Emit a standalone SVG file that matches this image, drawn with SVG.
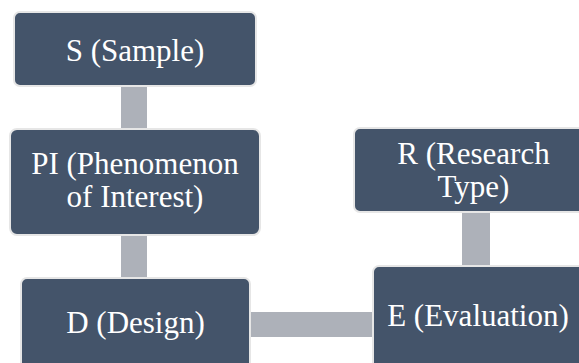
<svg xmlns="http://www.w3.org/2000/svg" width="579" height="363" viewBox="0 0 579 363">
<style>
.box{fill:#44546a;stroke:#e6e6e6;stroke-width:2}
.con{fill:#adb1b9}
.t{font-family:'Liberation Serif','DejaVu Serif',serif;font-size:31px;fill:#ffffff;text-anchor:middle}
</style>
<rect width="579" height="363" fill="#ffffff"/>
<g id="connectors">
<rect class="con" x="121" y="87" width="26" height="42"/>
<rect class="con" x="121" y="235" width="26" height="43"/>
<rect class="con" x="250" y="312" width="123" height="25"/>
<rect class="con" x="462" y="212" width="28" height="54"/>
</g>
<g id="S">
<rect class="box" x="14" y="12" width="242" height="74" rx="6"/>
<text class="t" x="135" y="61" font-family="Liberation Serif, serif">S (Sample)</text>
</g>
<g id="PI">
<rect class="box" x="10" y="129" width="250" height="106" rx="7"/>
<text class="t" x="135" y="174" font-family="Liberation Serif, serif">PI (Phenomenon</text>
<text class="t" x="135" y="207" font-family="Liberation Serif, serif">of Interest)</text>
</g>
<g id="D">
<rect class="box" x="21" y="278" width="229" height="100" rx="6"/>
<text class="t" x="135.5" y="333" font-family="Liberation Serif, serif">D (Design)</text>
</g>
<g id="R">
<rect class="box" x="354" y="128" width="240" height="84" rx="6"/>
<text class="t" x="473.5" y="164" font-family="Liberation Serif, serif">R (Research</text>
<text class="t" x="473.5" y="197" font-family="Liberation Serif, serif">Type)</text>
</g>
<g id="E">
<rect class="box" x="373" y="266" width="212" height="110" rx="6"/>
<text class="t" x="478" y="326" font-family="Liberation Serif, serif">E (Evaluation)</text>
</g>
</svg>
